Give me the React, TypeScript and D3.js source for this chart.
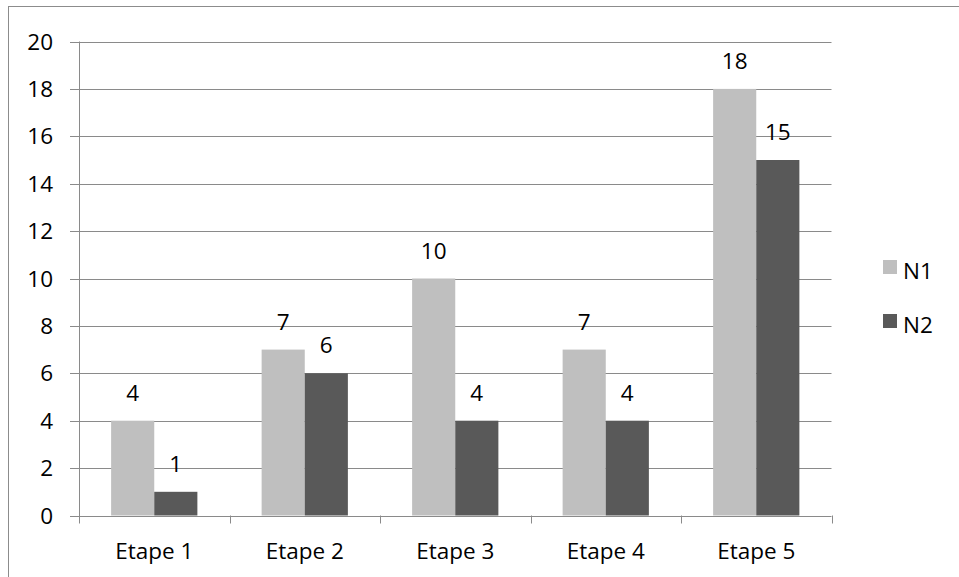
import React from "react";
import * as d3 from "d3";

const categories = ["Etape 1", "Etape 2", "Etape 3", "Etape 4", "Etape 5"];
const seriesNames = ["N1", "N2"];
const n1Values = [4, 7, 10, 7, 18];
const n2Values = [1, 6, 4, 4, 15];
const yTicks = [0, 2, 4, 6, 8, 10, 12, 14, 16, 18, 20];
const colors = ["#bfbfbf", "#595959"];

const W = 959;
const H = 577;
const left = 79;
const right = 831.5;
const top = 41.5;
const bottom = 515.5;
const FONT = "'Open Sans', sans-serif";
const FS = 22.5;

export default function App() {
  const x = d3.scaleBand<string>().domain(categories).range([left, right]).paddingInner(0).paddingOuter(0);
  const inner = d3.scaleBand<string>().domain(seriesNames).range([0, x.bandwidth()]).paddingInner(0).paddingOuter(0.745);
  const y = d3.scaleLinear().domain([0, 20]).range([bottom, top]);
  const data = [n1Values, n2Values];
  const grid = "#8a8a8a";

  return (
    <svg width={W} height={H} style={{ position: "absolute", left: 0, top: 0 }}>
      <rect x={0} y={0} width={W} height={H} fill="#fff" />
      <rect x={8.5} y={6.5} width={W + 20} height={H + 20} fill="none" stroke="#8c8c8c" strokeWidth={1} />
      {yTicks.map((t) => (
        <g key={t}>
          <line x1={left - 9} x2={right} y1={Math.round(y(t)) + 0.5} y2={Math.round(y(t)) + 0.5} stroke={grid} strokeWidth={1} />
          <text x={53} y={y(t)} dy="0.36em" textAnchor="end" fontFamily={FONT} fontSize={FS} fill="#000">{t}</text>
        </g>
      ))}
      <line x1={left + 0.5} x2={left + 0.5} y1={top} y2={bottom + 1} stroke={grid} />
      {d3.range(categories.length + 1).map((i) => {
        const xx = Math.round(left + i * x.step()) + 0.5;
        return <line key={i} x1={xx} x2={xx} y1={bottom} y2={bottom + 8} stroke={grid} />;
      })}
      {categories.map((c, ci) => (
        <g key={c}>
          {seriesNames.map((s, si) => {
            const v = data[si][ci];
            const bx = (x(c) as number) + (inner(s) as number);
            return (
              <g key={s}>
                <rect x={bx} y={y(v)} width={inner.bandwidth()} height={bottom - y(v)} fill={colors[si]} />
                <text x={bx + inner.bandwidth() / 2} y={y(v) - 20} textAnchor="middle" fontFamily={FONT} fontSize={FS} fill="#000">{v}</text>
              </g>
            );
          })}
          <text x={(x(c) as number) + x.bandwidth() / 2} y={559} textAnchor="middle" fontFamily={FONT} fontSize={FS} fill="#000">{c}</text>
        </g>
      ))}
      {seriesNames.map((s, si) => (
        <g key={s}>
          <rect x={883} y={260 + si * 54} width={14} height={14} fill={colors[si]} />
          <text x={903} y={278.5 + si * 54} fontFamily={FONT} fontSize={FS} fill="#000">{s}</text>
        </g>
      ))}
    </svg>
  );
}
